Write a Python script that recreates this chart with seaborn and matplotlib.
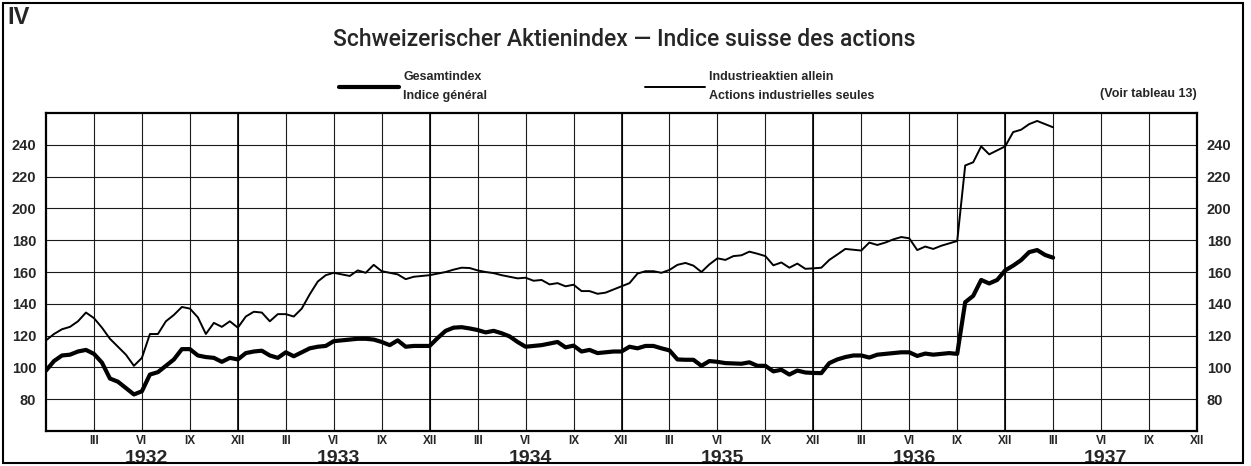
import numpy as np
import pandas as pd
import seaborn as sns
import matplotlib.pyplot as plt

# Halbmonatliche Werte, Januar 1932 bis März 1937 (Monate seit Ende 1931)
monat = np.arange(0, 63.5, 0.5)

gesamtindex = [
    98, 104, 107.5, 108, 110, 111, 108.5, 103, 93, 91, 87, 83, 85, 95.5, 97, 101,
    105, 111.5, 111.5, 107.5, 106.5, 106, 103.5, 106, 105,
    109, 110, 110.5, 107.5, 106, 109.5, 107, 109.5, 112, 113, 113.5, 116.5, 117,
    117.5, 118, 118, 117.5, 116, 114, 117, 113, 113.5, 113.5, 113.5,
    118.5, 123, 125, 125.3, 124.5, 123.5, 122, 123, 121.5, 119.5, 116, 113, 113.5,
    114, 115, 116, 112.6, 113.7, 110, 111, 109, 109.5, 110, 110, 113, 112, 113.5,
    113.5, 112, 110.7, 105, 104.8, 104.8, 101, 104, 103.5, 102.7, 102.5, 102.3,
    103.2, 101, 101, 97.5, 98.5, 95.5, 98, 96.8, 96.5, 96.4, 102.7, 105,
    106.5, 107.5, 107.5, 106.2, 108, 108.5, 109, 109.5, 109.5, 107.2, 108.7, 108,
    108.5, 109, 108.5, 141, 145, 155, 152.8, 155, 161, 164, 167.5, 172.5, 173.8,
    170.7, 169,
]

industrie = [
    117, 121, 124, 125.5, 129, 134.5, 131, 125, 118, 113, 108, 101, 106, 121, 121,
    129, 133, 138, 137, 131.5, 121, 128, 125.5, 129, 125,
    132, 135, 134.5, 129, 133.5, 133.5, 132, 137, 146, 154, 158, 159.5, 158.5,
    157.5, 161, 159.5, 164.5, 160.5, 159.5, 158.5, 155.5, 157, 157.5, 158,
    159, 160, 161.5, 162.7, 162.5, 161, 160, 159.3, 158, 157, 156, 156.4, 154.5,
    155, 152.2, 153, 151, 152, 148, 148, 146.3, 147, 149, 151, 153, 159, 160.5,
    160.5, 159.5, 161.3, 164.5, 165.7, 164, 160, 164.8, 168.6, 167.6, 170, 170.5,
    172.8, 171.5, 170, 164.2, 166, 162.7, 165.3, 162, 162.3, 162.7, 167.6, 171,
    174.5, 174, 173.5, 178.5, 177, 178.5, 180.5, 182, 181.2, 173.8, 176, 174.5,
    176.5, 178, 179.5, 227, 229, 239, 234, 236.5, 239, 248, 249.5, 253, 255, 253,
    251,
]

quartale = ["III", "VI", "IX", "XII"] * 6
jahre = ["1932", "1933", "1934", "1935", "1936", "1937"]
y_ticks = [80, 100, 120, 140, 160, 180, 200, 220, 240]

df = pd.DataFrame({"Monat": monat, "Gesamtindex": gesamtindex, "Industrie": industrie})

sns.set_style("white")
plt.rcParams["font.family"] = ["Liberation Sans", "DejaVu Sans"]

fig = plt.figure(figsize=(12.51, 4.66), dpi=100)
ax = fig.add_axes([46 / 1251, 35 / 466, 1151 / 1251, 318 / 466])

#gitter
ax.set_xlim(0, 72)
ax.set_ylim(60, 260)
ax.set_xticks(np.arange(3, 73, 3))
ax.set_xticklabels(quartale, fontsize=8.5, fontweight="bold")
ax.set_xticks(np.arange(6.3, 72, 12), minor=True)
ax.set_xticklabels(jahre, minor=True, fontsize=14, fontweight="bold")
ax.set_yticks(y_ticks)
ax.set_yticklabels(y_ticks, fontsize=10.5, fontweight="bold")
ax.tick_params(axis="x", which="major", length=0, pad=3)
ax.tick_params(axis="x", which="minor", length=0, pad=14)
ax.tick_params(axis="y", length=0, pad=7, labelright=True)
ax.grid(True, which="major", color="#1a1a1a", linewidth=0.8)
for jahr_ende in range(12, 72, 12):
    ax.axvline(jahr_ende, color="black", linewidth=1.2, zorder=1)
for s in ax.spines.values():
    s.set_color("black")
    s.set_linewidth(1.6)

#kurven
sns.lineplot(data=df, x="Monat", y="Gesamtindex", ax=ax, color="black",
             linewidth=3.0, label="Gesamtindex\nIndice général", zorder=3)
sns.lineplot(data=df, x="Monat", y="Industrie", ax=ax, color="black",
             linewidth=1.4, label="Industrieaktien allein\nActions industrielles seules", zorder=3)
ax.set_xlabel("")
ax.set_ylabel("")

#legende
leg = ax.legend(ncol=2, frameon=False, loc="lower left", bbox_to_anchor=(0.2545, 1.035),
                borderpad=0, borderaxespad=0, handlelength=4.8, handletextpad=0.35,
                columnspacing=12.6, labelspacing=0.2,
                prop={"size": 9, "weight": "bold"})
for t in leg.get_texts():
    t.set_linespacing(1.75)

ax.text(1.0, 1.06, "(Voir tableau 13)", transform=ax.transAxes, ha="right", va="center",
        fontsize=9, fontweight="bold")

fig.text(0.499, 1 - 39 / 466, "Schweizerischer Aktienindex — Indice suisse des actions",
         ha="center", va="center", fontsize=16.5, family="Roboto", fontweight="medium")
fig.text(7 / 1251, 1 - 18 / 466, "IV", ha="left", va="center", fontsize=17, fontweight="bold")

#rahmen
fig.add_artist(plt.Rectangle((0.002, 0.006), 0.992, 0.988, transform=fig.transFigure,
                             fill=False, edgecolor="black", linewidth=1.5))

fig.savefig("out.png", dpi=100)
plt.close()
